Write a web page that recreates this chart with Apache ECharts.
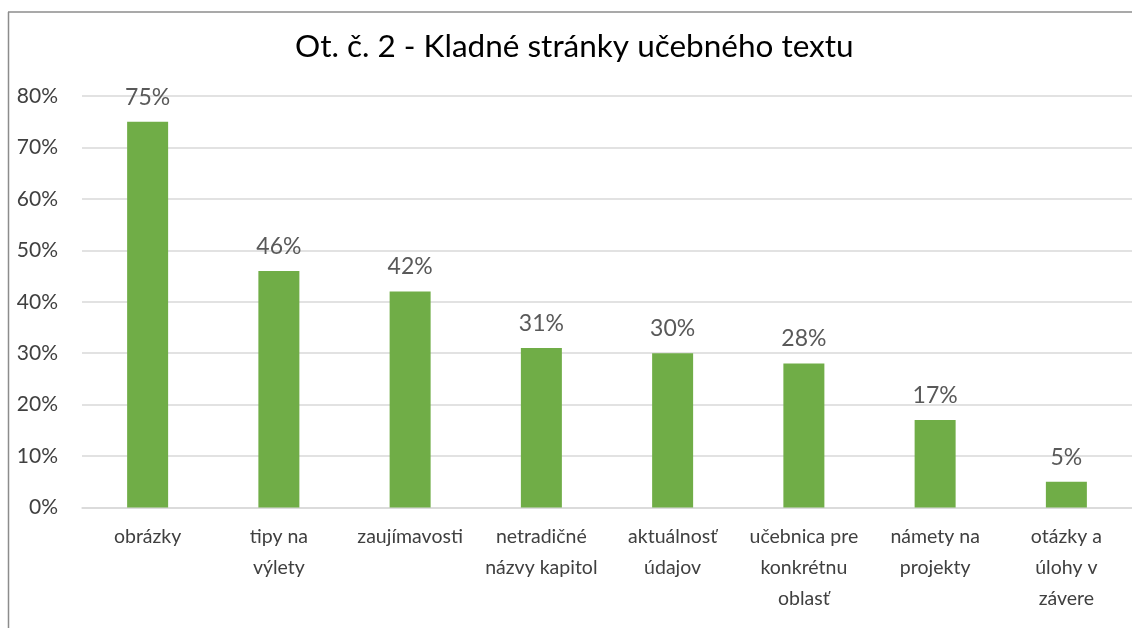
<!DOCTYPE html>
<html>
<head>
<meta charset="utf-8">
<script src="https://cdn.jsdelivr.net/npm/echarts@6/dist/echarts.min.js"></script>
<style>
  html, body { margin: 0; padding: 0; background: #fff; }
  #chart { width: 1132px; height: 628px; }
</style>
</head>
<body>
<div id="chart"></div>
<script>
// data
const categories = [
  'obrázky',
  'tipy na\nvýlety',
  'zaujímavosti',
  'netradičné\nnázvy kapitol',
  'aktuálnosť\núdajov',
  'učebnica pre\nkonkrétnu\noblasť',
  'námety na\nprojekty',
  'otázky a\núlohy v\nzávere'
];
const values = [75, 46, 42, 31, 30, 28, 17, 5];
const yTicks = [0, 10, 20, 30, 40, 50, 60, 70, 80];

const font = 'Lato, "Open Sans", sans-serif';
const chart = echarts.init(document.getElementById('chart'));

chart.setOption({
  backgroundColor: '#fff',
  animation: false,
  title: {
    text: 'Ot. č. 2 - Kladné stránky učebného textu',
    left: 290,
    top: 26,
    textStyle: { fontFamily: font, fontSize: 31.5, fontWeight: 'normal', color: '#000' }
  },
  graphic: [
    { type: 'line', shape: { x1: 8.5, y1: 12, x2: 8.5, y2: 640 }, style: { stroke: '#8c8c8c', lineWidth: 1.5 } },
    { type: 'line', shape: { x1: 8, y1: 12, x2: 1140, y2: 12 }, style: { stroke: '#8c8c8c', lineWidth: 1.5 } }
  ],
  grid: { left: 82, right: -6, top: 96, bottom: 120.5, containLabel: false },
  xAxis: {
    type: 'category',
    data: categories,
    axisTick: { show: false },
    axisLine: { lineStyle: { color: '#d9d9d9', width: 1.5 } },
    axisLabel: {
      interval: 0,
      margin: 14,
      fontFamily: font,
      fontSize: 19.5,
      lineHeight: 31,
      color: '#404040'
    }
  },
  yAxis: {
    type: 'value',
    min: yTicks[0],
    max: yTicks[yTicks.length - 1],
    interval: 10,
    axisLine: { show: false },
    axisTick: { show: false },
    splitLine: { lineStyle: { color: '#d9d9d9', width: 1.5 } },
    axisLabel: {
      margin: 24,
      fontFamily: font,
      fontSize: 21,
      color: '#404040',
      formatter: v => v + '%'
    }
  },
  series: [{
    type: 'bar',
    data: values,
    barWidth: 41,
    itemStyle: { color: '#70ad47' },
    label: {
      show: true,
      position: 'top',
      distance: 13,
      fontFamily: font,
      fontSize: 23,
      color: '#595959',
      formatter: p => p.value + '%'
    }
  }]
});
</script>
</body>
</html>
